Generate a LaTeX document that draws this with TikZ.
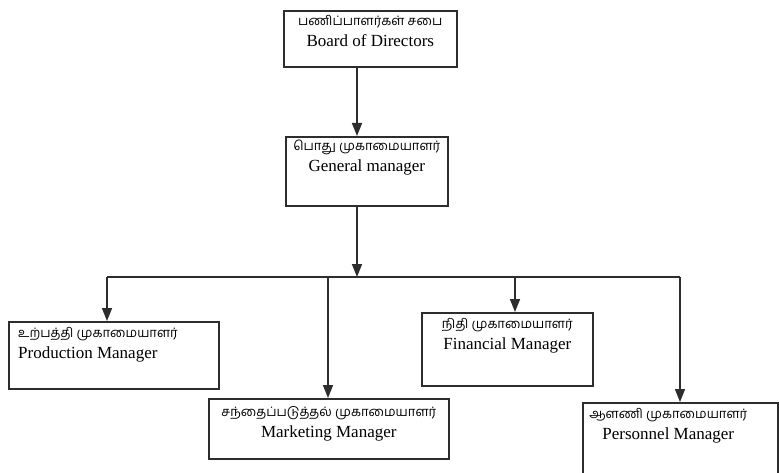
\documentclass[tikz,border=0pt]{standalone}
\usepackage{fontspec}
\setmainfont{Liberation Serif}
\newfontfamily\tamilFont[Script=Tamil]{Hind Madurai}
\usetikzlibrary{positioning, arrows.meta}
\tikzstyle{chart} = [x = 1pt, y = -1pt]
\definecolor{lineColor}{RGB}{45,45,45}
\tikzstyle{boxStyle} = [draw=lineColor, line width=1.6pt, anchor=north west, inner sep=0pt]
\tikzstyle{boxText} = [inner sep=0pt, align=center, font=\fontsize{17}{21}\selectfont]
\tikzstyle{linkLine} = [draw=lineColor, line width=1.6pt]
\tikzstyle{linkArrow} = [linkLine, -{Triangle[width=10pt, length=13pt]}]
\newcommand{\tamil}[1]{{\tamilFont\fontsize{13}{15}\selectfont #1}}
\newcommand{\managerBox}[5]{\node [boxStyle, minimum width = #4, minimum height = #5] (#1) at (#2,#3) {};}

\begin{document}
\begin{tikzpicture}[chart]
  \useasboundingbox (0,0) rectangle (779,473);
  \begin{scope}
    \clip (0,0) rectangle (779,473);
    % boxes
    \managerBox{board}{283}{10}{173pt}{56pt}
    \managerBox{general}{285}{136}{162pt}{69pt}
    \managerBox{production}{8}{321}{210pt}{67pt}
    \managerBox{financial}{421}{312}{171pt}{73pt}
    \managerBox{marketing}{208}{398}{240pt}{60pt}
    \managerBox{personnel}{582}{402}{195pt}{90pt}

    % texts
    \node [boxText, below = 5pt of board.north] (boardText)
      {\tamil{பணிப்பாளர்கள் சபை}\\ Board of Directors};
    \node [boxText, below = 4pt of general.north] (generalText)
      {\tamil{பொது முகாமையாளர்}\\ General manager};
    \node [boxText, align=left, below right = 6pt and 10pt of production.north west] (productionText)
      {\tamil{உற்பத்தி முகாமையாளர்}\\ Production Manager};
    \node [boxText, below = 6pt of financial.north] (financialText)
      {\tamil{நிதி முகாமையாளர்}\\ Financial Manager};
    \node [boxText, below = 8pt of marketing.north] (marketingText)
      {\tamil{சந்தைப்படுத்தல் முகாமையாளர்}\\ Marketing Manager};
    \node [boxText, below = 6pt of personnel.north, xshift=-12pt] (personnelText)
      {\tamil{ஆளணி முகாமையாளர்}\\ Personnel Manager};

    % links
    \coordinate (busLeft) at (107,277);
    \coordinate (busMid) at (357,277);
    \coordinate (busRight) at (680,277);
    \draw [linkArrow] (board.south -| busMid) -- (general.north -| busMid);
    \draw [linkArrow] (general.south -| busMid) -- (busMid);
    \draw [linkLine] (busLeft) -- (busRight);
    \draw [linkArrow] (busLeft) -- (production.north -| busLeft);
    \draw [linkArrow] (328,277) -- (marketing.north -| 328,0);
    \draw [linkArrow] (515,277) -- (financial.north -| 515,0);
    \draw [linkArrow] (busRight) -- (personnel.north -| busRight);
  \end{scope}
\end{tikzpicture}
\end{document}
